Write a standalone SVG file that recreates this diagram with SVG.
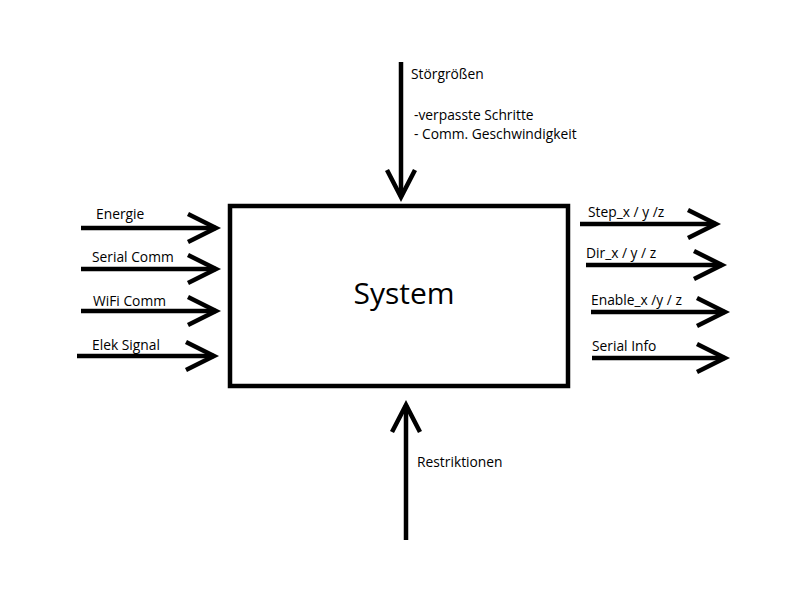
<svg xmlns="http://www.w3.org/2000/svg" width="800" height="600" viewBox="0 0 800 600">
<style>
.ln{stroke:#000;stroke-width:4.5;fill:none}
.hd{stroke:#000;stroke-width:4.5;fill:none;stroke-linejoin:miter}
.t{font-family:"Open Sans","Liberation Sans",Arial,sans-serif;font-size:13.8px;fill:#000}
.big{font-family:"Open Sans","Liberation Sans",sans-serif;font-size:30px;fill:#000}
</style>
<rect width="800" height="600" fill="#fff"/>
<g id="system">
<rect x="230" y="206" width="338" height="180" fill="#fff" stroke="#000" stroke-width="4.5"/>
<text class="big" x="404" y="304" text-anchor="middle">System</text>
</g>
<g id="connectors">
<line class="ln" x1="81" y1="228" x2="216" y2="228"/><polyline class="hd" points="188,214 216,228 188,242"/>
<line class="ln" x1="81" y1="269" x2="216" y2="269"/><polyline class="hd" points="188,255 216,269 188,283"/>
<line class="ln" x1="81" y1="311" x2="216" y2="311"/><polyline class="hd" points="188,297 216,311 188,325"/>
<line class="ln" x1="77" y1="356" x2="214" y2="356"/><polyline class="hd" points="186,342 214,356 186,370"/>
<line class="ln" x1="580" y1="224" x2="716" y2="224"/><polyline class="hd" points="688,210 716,224 688,238"/>
<line class="ln" x1="586" y1="265" x2="722" y2="265"/><polyline class="hd" points="694,251 722,265 694,279"/>
<line class="ln" x1="591" y1="312" x2="725" y2="312"/><polyline class="hd" points="697,298 725,312 697,326"/>
<line class="ln" x1="592" y1="358" x2="725" y2="358"/><polyline class="hd" points="697,344 725,358 697,372"/>
<line class="ln" x1="401" y1="62" x2="401" y2="197"/><polyline class="hd" points="387,170 401,197 415,170"/>
<line class="ln" x1="406" y1="540" x2="406" y2="405"/><polyline class="hd" points="392,432 406,405 420,432"/>
</g>
<g id="labels">
<text class="t" x="96" y="219">Energie</text>
<text class="t" x="92" y="262">Serial Comm</text>
<text class="t" x="93" y="306">WiFi Comm</text>
<text class="t" x="92" y="350">Elek Signal</text>
<text class="t" x="588" y="217">Step_x / y /z</text>
<text class="t" x="586" y="258">Dir_x / y / z</text>
<text class="t" x="591" y="305">Enable_x /y / z</text>
<text class="t" x="592" y="351">Serial Info</text>
<text class="t" x="411" y="79">Störgrößen</text>
<text class="t" x="414" y="120">-verpasste Schritte</text>
<text class="t" x="414" y="139">- Comm. Geschwindigkeit</text>
<text class="t" x="417" y="467">Restriktionen</text>
</g>
</svg>
